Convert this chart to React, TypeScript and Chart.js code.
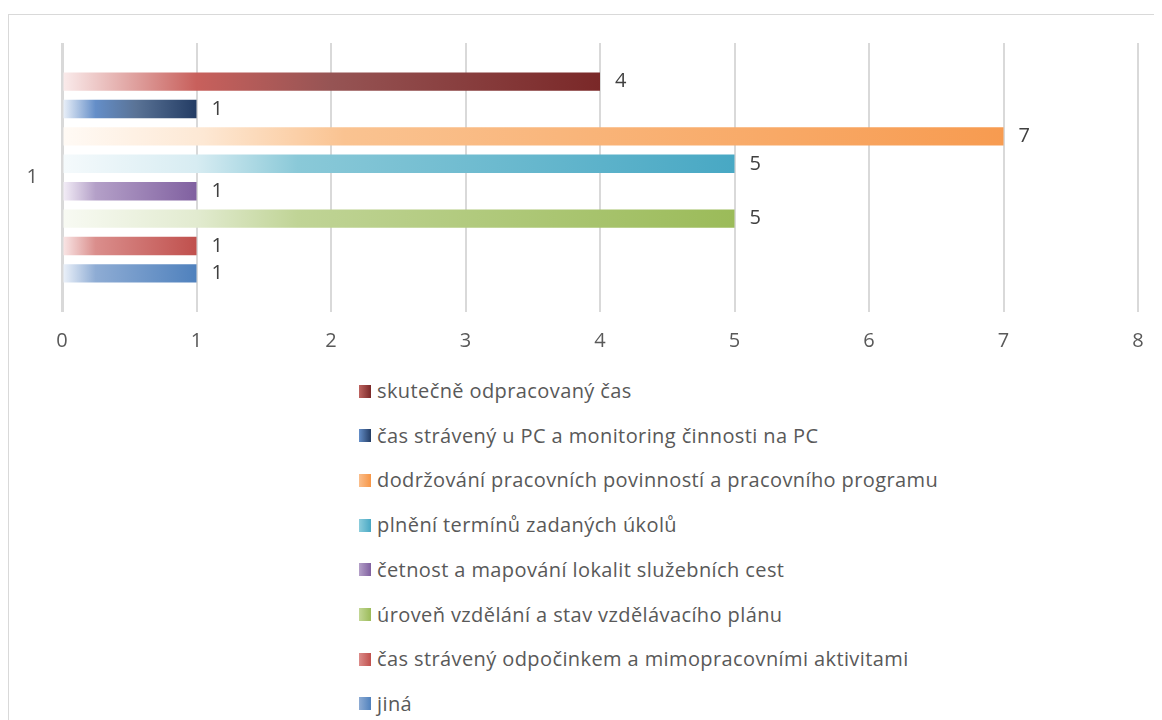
import React, { useEffect, useRef } from 'react';
import { Chart, registerables } from 'chart.js';

Chart.register(...registerables);

const categories = ['1'];
const seriesNames = [
  'skutečně odpracovaný čas',
  'čas strávený u PC a monitoring činnosti na PC',
  'dodržování pracovních povinností a pracovního programu',
  'plnění termínů zadaných úkolů',
  'četnost a mapování lokalit služebních cest',
  'úroveň vzdělání a stav vzdělávacího plánu',
  'čas strávený odpočinkem a mimopracovními aktivitami',
  'jiná',
];
const seriesValues = [4, 1, 7, 5, 1, 5, 1, 1];
const xTickValues = [0, 1, 2, 3, 4, 5, 6, 7, 8];

const gradientStops: [number, string][][] = [
  [[0, 'rgba(250,236,236,1)'], [0.25, 'rgb(200,96,92)'], [0.5, 'rgb(150,84,84)'], [1, 'rgb(122,40,40)']],
  [[0, 'rgba(238,243,250,1)'], [0.25, 'rgb(100,142,200)'], [0.55, 'rgb(90,115,150)'], [1, 'rgb(35,60,100)']],
  [[0, 'rgba(255,250,245,1)'], [0.15, 'rgb(253,232,212)'], [0.3, 'rgb(250,195,145)'], [1, 'rgb(247,155,80)']],
  [[0, 'rgba(245,250,252,1)'], [0.2, 'rgb(215,236,242)'], [0.35, 'rgb(138,201,216)'], [1, 'rgb(72,168,196)']],
  [[0, 'rgba(245,240,248,1)'], [0.25, 'rgb(180,160,200)'], [1, 'rgb(128,96,160)']],
  [[0, 'rgba(248,250,243,1)'], [0.2, 'rgb(226,235,208)'], [0.35, 'rgb(192,212,150)'], [1, 'rgb(155,187,89)']],
  [[0, 'rgba(250,232,232,1)'], [0.25, 'rgb(218,142,140)'], [1, 'rgb(192,80,77)']],
  [[0, 'rgba(238,243,250,1)'], [0.25, 'rgb(142,172,212)'], [1, 'rgb(79,129,189)']],
];

const legendMarkers = [
  'linear-gradient(to right, rgb(190,100,96), rgb(122,40,40))',
  'linear-gradient(to right, rgb(100,142,200), rgb(35,60,100))',
  'linear-gradient(to right, rgb(250,190,140), rgb(247,150,70))',
  'linear-gradient(to right, rgb(140,205,220), rgb(72,168,196))',
  'linear-gradient(to right, rgb(180,160,200), rgb(128,96,160))',
  'linear-gradient(to right, rgb(195,215,150), rgb(155,187,89))',
  'linear-gradient(to right, rgb(220,140,138), rgb(192,80,77))',
  'linear-gradient(to right, rgb(142,172,212), rgb(79,129,189))',
];

const FONT = '"Open Sans"';

function makeGradient(c: any, i: number) {
  const chart = c.chart;
  const area = chart.chartArea;
  const stops = gradientStops[i];
  if (!area) return stops[stops.length - 1][1];
  const xs = chart.scales.x;
  const x0 = xs.getPixelForValue(0);
  const x1 = xs.getPixelForValue(seriesValues[i]);
  const g = chart.ctx.createLinearGradient(x0, 0, x1, 0);
  stops.forEach(([p, col]) => g.addColorStop(p, col));
  return g;
}

export default function App() {
  const ref = useRef<HTMLCanvasElement>(null);

  useEffect(() => {
    document.documentElement.style.overflow = 'hidden';
    const canvas = ref.current!;
    const valueLabels = {
      id: 'valueLabels',
      afterDatasetsDraw(chart: any) {
        const ctx = chart.ctx;
        ctx.save();
        ctx.font = `20px ${FONT}`;
        ctx.fillStyle = '#404040';
        ctx.textBaseline = 'middle';
        ctx.textAlign = 'left';
        chart.data.datasets.forEach((ds: any, i: number) => {
          const meta = chart.getDatasetMeta(i);
          meta.data.forEach((el: any, j: number) => {
            ctx.fillText(String(ds.data[j]), el.x + 15, el.y);
          });
        });
        ctx.restore();
      },
    };

    const chart = new Chart(canvas, {
      type: 'bar',
      data: {
        labels: categories,
        datasets: seriesNames.map((name, i) => ({
          label: name,
          data: [seriesValues[i]],
          backgroundColor: (c: any) => makeGradient(c, i),
          borderWidth: 0,
          categoryPercentage: 0.815,
          barPercentage: 0.67,
        })),
      },
      options: {
        indexAxis: 'y',
        responsive: false,
        animation: false,
        layout: { padding: { top: 28, right: 11, left: 0, bottom: 0 } },
        plugins: { legend: { display: false }, tooltip: { enabled: false } },
        scales: {
          x: {
            min: xTickValues[0],
            max: xTickValues[xTickValues.length - 1],
            afterBuildTicks: (s: any) => {
              s.ticks = xTickValues.map((v) => ({ value: v }));
            },
            ticks: { color: '#595959', font: { family: FONT, size: 20 }, padding: 17 },
            grid: {
              color: '#d9d9d9',
              lineWidth: (c: any) => (c.tick && c.tick.value === 0 ? 3 : 2),
              drawTicks: false,
            },
            border: { display: false },
            afterFit: (s: any) => {
              s.height = 53;
              s.paddingLeft = 0;
              s.paddingRight = 0;
            },
          },
          y: {
            ticks: { color: '#595959', font: { family: FONT, size: 20 }, padding: 24 },
            grid: { display: false, drawTicks: false },
            border: { display: false },
            afterFit: (s: any) => {
              s.width = 53;
              s.paddingTop = 0;
              s.paddingBottom = 0;
            },
          },
        },
      } as any,
      plugins: [valueLabels],
    });
    return () => chart.destroy();
  }, []);

  const rowCenter0 = 376;
  const rowStep = 44.7;

  return (
    <div
      style={{
        position: 'relative',
        top: 6,
        width: 1146,
        height: 712,
        borderTop: '1px solid #d9d9d9',
        borderLeft: '1px solid #d9d9d9',
        boxSizing: 'border-box',
      }}
    >
      <canvas
        ref={ref}
        width={1140}
        height={350}
        style={{ position: 'absolute', left: 0, top: 0, width: 1140, height: 350 }}
      />
      {seriesNames.map((name, i) => (
        <div
          key={name}
          style={{
            position: 'absolute',
            left: 350,
            top: rowCenter0 + i * rowStep - 12,
            height: 24,
            display: 'flex',
            alignItems: 'center',
            whiteSpace: 'nowrap',
          }}
        >
          <span
            style={{
              display: 'inline-block',
              width: 12,
              height: 13,
              background: legendMarkers[i],
              marginRight: 6,
            }}
          />
          <span
            style={{
              fontFamily: FONT,
              fontSize: 20,
              letterSpacing: 0.4,
              color: '#595959',
              lineHeight: '24px',
            }}
          >
            {name}
          </span>
        </div>
      ))}
    </div>
  );
}
